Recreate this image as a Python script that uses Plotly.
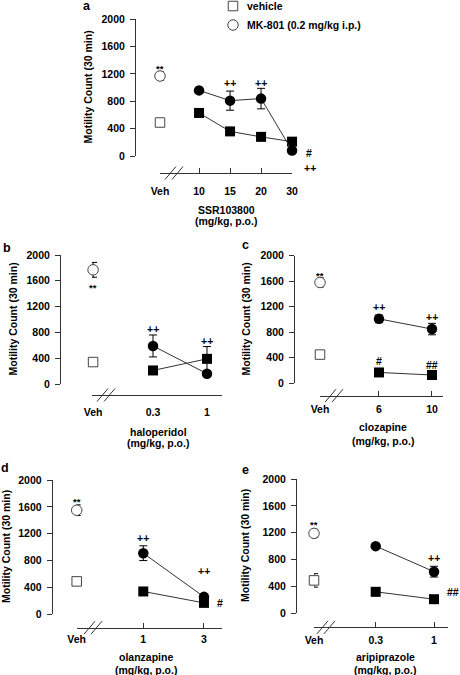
import plotly.graph_objects as go

# ---------------- data ----------------
veh_label = "Veh"
y_ticks = [0, 400, 800, 1200, 1600, 2000]
y_title = "Motility Count (30 min)"
dose_unit = "(mg/kg, p.o.)"
legend_vehicle = "vehicle"
legend_mk801 = "MK-801 (0.2 mg/kg i.p.)"

# panel a: SSR103800
a_drug = "SSR103800"
a_doses = ["10", "15", "20", "30"]
a_vehicle = [630, 360, 280, 210]
a_vehicle_err = [40, 50, 30, 30]
a_mk801 = [960, 810, 840, 80]
a_mk801_err = [40, 140, 150, 30]
a_ctrl_vehicle, a_ctrl_vehicle_err = 490, 20
a_ctrl_mk801, a_ctrl_mk801_err = 1170, 60

# panel b: haloperidol
b_drug = "haloperidol"
b_doses = ["0.3", "1"]
b_vehicle = [210, 390]
b_vehicle_err = [20, 190]
b_mk801 = [590, 160]
b_mk801_err = [170, 40]
b_ctrl_vehicle, b_ctrl_vehicle_err = 340, 30
b_ctrl_mk801, b_ctrl_mk801_err = 1770, 115

# panel c: clozapine
c_drug = "clozapine"
c_doses = ["6", "10"]
c_vehicle = [170, 130]
c_vehicle_err = [20, 20]
c_mk801 = [1010, 850]
c_mk801_err = [60, 90]
c_ctrl_vehicle, c_ctrl_vehicle_err = 450, 30
c_ctrl_mk801, c_ctrl_mk801_err = 1580, 70

# panel d: olanzapine
d_drug = "olanzapine"
d_doses = ["1", "3"]
d_vehicle = [340, 170]
d_vehicle_err = [50, 30]
d_mk801 = [910, 260]
d_mk801_err = [110, 40]
d_ctrl_vehicle, d_ctrl_vehicle_err = 490, 30
d_ctrl_mk801, d_ctrl_mk801_err = 1550, 80

# panel e: aripiprazole
e_drug = "aripiprazole"
e_doses = ["0.3", "1"]
e_vehicle = [320, 210]
e_vehicle_err = [60, 30]
e_mk801 = [1000, 620]
e_mk801_err = [30, 80]
e_ctrl_vehicle, e_ctrl_vehicle_err = 490, 100
e_ctrl_mk801, e_ctrl_mk801_err = 1190, 60

# significance labels: (label, series, dose index or None for Veh)
a_sig = [("**", "mk", None), ("++", "mk", 1), ("++", "mk", 2), ("#", "mk", 3), ("++", "mk", 3)]
b_sig = [("**", "mk", None), ("++", "mk", 0), ("++", "veh", 1)]
c_sig = [("**", "mk", None), ("++", "mk", 0), ("++", "mk", 1), ("#", "veh", 0), ("##", "veh", 1)]
d_sig = [("**", "mk", None), ("++", "mk", 0), ("++", "mk", 1), ("#", "veh", 1)]
e_sig = [("**", "mk", None), ("++", "mk", 1), ("##", "veh", 1)]

panels = [
    dict(key="a", drug=a_drug, doses=a_doses, veh=a_vehicle, veh_err=a_vehicle_err, mk=a_mk801, mk_err=a_mk801_err,
         cveh=a_ctrl_vehicle, cveh_err=a_ctrl_vehicle_err, cmk=a_ctrl_mk801, cmk_err=a_ctrl_mk801_err, sig=a_sig),
    dict(key="b", drug=b_drug, doses=b_doses, veh=b_vehicle, veh_err=b_vehicle_err, mk=b_mk801, mk_err=b_mk801_err,
         cveh=b_ctrl_vehicle, cveh_err=b_ctrl_vehicle_err, cmk=b_ctrl_mk801, cmk_err=b_ctrl_mk801_err, sig=b_sig),
    dict(key="c", drug=c_drug, doses=c_doses, veh=c_vehicle, veh_err=c_vehicle_err, mk=c_mk801, mk_err=c_mk801_err,
         cveh=c_ctrl_vehicle, cveh_err=c_ctrl_vehicle_err, cmk=c_ctrl_mk801, cmk_err=c_ctrl_mk801_err, sig=c_sig),
    dict(key="d", drug=d_drug, doses=d_doses, veh=d_vehicle, veh_err=d_vehicle_err, mk=d_mk801, mk_err=d_mk801_err,
         cveh=d_ctrl_vehicle, cveh_err=d_ctrl_vehicle_err, cmk=d_ctrl_mk801, cmk_err=d_ctrl_mk801_err, sig=d_sig),
    dict(key="e", drug=e_drug, doses=e_doses, veh=e_vehicle, veh_err=e_vehicle_err, mk=e_mk801, mk_err=e_mk801_err,
         cveh=e_ctrl_vehicle, cveh_err=e_ctrl_vehicle_err, cmk=e_ctrl_mk801, cmk_err=e_ctrl_mk801_err, sig=e_sig),
]

# ---------------- layout (pixel geometry) ----------------
W, H = 460, 675
def fx(px): return px / W
def fy(py): return 1 - py / H

FONT = "Liberation Sans, Arial, Helvetica, sans-serif"
AXC = "#333333"
FS = 10.5

geom = {
    "a": dict(yax_x=135, ytop=19.3, ybot=156, xax_y=173, xdom=(160, 292.2), xrange=(-1.26, 3.005), vehpos=-1.26,
              ticks=True, xstand=8, brk=174, lab=(87, 6), ytitle=(87, 87.5), xt=(226, 210, 221),
              sigoff=[(0, 8), (0, 18), (0, 15.6), (17, -2.6), (18, -17)]),
    "b": dict(yax_x=60, ytop=255, ybot=384, xax_y=395, xdom=(92, 222), xrange=(-1.13, 1.278), vehpos=-1.11,
              ticks=False, xstand=7, brk=106, lab=(7, 248), ytitle=(12, 319.5), xt=(158, 431.7, 442.7),
              sigoff=[(0, -18), (0, 17), (0, 18.3)]),
    "c": dict(yax_x=294, ytop=255.7, ybot=383.3, xax_y=395.7, xdom=(320, 443), xrange=(-1.113, 1.208), vehpos=-1.113,
              ticks=True, xstand=4, brk=334, lab=(245, 245), ytitle=(245, 319.5), xt=(383, 426.7, 440.7),
              sigoff=[(0, 7), (0, 12.3), (0, 12.3), (0, 11.6), (0, 10)]),
    "d": dict(yax_x=51.7, ytop=480, ybot=614.3, xax_y=627.7, xdom=(76.7, 222), xrange=(-1.097, 1.297), vehpos=-1.097,
              ticks=True, xstand=2, brk=93, lab=(5, 468), ytitle=(6, 547), xt=(146, 657.2, 669.8),
              sigoff=[(0, 8.5), (0, 15.6), (0, 25.7), (16, 0)]),
    "e": dict(yax_x=296, ytop=479, ybot=613.3, xax_y=627.3, xdom=(314, 448), xrange=(-1.058, 1.24), vehpos=-1.058,
              ticks=True, xstand=3, brk=326, lab=(245, 470), ytitle=(245, 546), xt=(385, 656.7, 669.5),
              sigoff=[(0, 8.5), (0, 13.3), (19, 7.3)]),
}

fig = go.Figure()
layout = dict(
    width=W, height=H, margin=dict(l=0, r=0, t=0, b=0, autoexpand=False),
    paper_bgcolor="white", plot_bgcolor="rgba(0,0,0,0)",
    font=dict(family=FONT, size=FS, color="black"),
    showlegend=False,
)
annotations = []
shapes = []

err_style = dict(type="data", color="black", thickness=1, width=4, visible=True)
open_line = dict(color="#444444", width=1)

def tfont(size=FS):
    return dict(family=FONT, size=size, weight="bold", color="black")

for i, p in enumerate(panels):
    g = geom[p["key"]]
    s = "" if i == 0 else str(i + 1)
    xa, ya = "x" + s, "y" + s
    n = len(p["doses"])
    xs = list(range(n))

    common = dict(xaxis=xa, yaxis=ya, cliponaxis=False, hoverinfo="skip")
    # dose series
    fig.add_trace(go.Scatter(x=xs, y=p["veh"], mode="lines+markers",
                             line=dict(color=AXC, width=1),
                             marker=dict(symbol="square", size=10, color="black"),
                             error_y=dict(array=p["veh_err"], **err_style), **common))
    fig.add_trace(go.Scatter(x=xs, y=p["mk"], mode="lines+markers",
                             line=dict(color=AXC, width=1),
                             marker=dict(symbol="circle", size=10.5, color="black"),
                             error_y=dict(array=p["mk_err"], **err_style), **common))
    # Veh controls
    fig.add_trace(go.Scatter(x=[g["vehpos"]], y=[p["cveh"]], mode="markers",
                             marker=dict(symbol="square", size=9.5, color="white", line=open_line),
                             error_y=dict(array=[p["cveh_err"]], **err_style), **common))
    fig.add_trace(go.Scatter(x=[g["vehpos"]], y=[p["cmk"]], mode="markers",
                             marker=dict(symbol="circle", size=10.5, color="white", line=open_line),
                             error_y=dict(array=[p["cmk_err"]], **err_style), **common))

    layout["xaxis" + s] = dict(
        domain=[fx(g["xdom"][0]), fx(g["xdom"][1])], range=list(g["xrange"]),
        anchor="free", position=fy(g["xax_y"]),
        showline=True, linecolor=AXC, linewidth=1,
        ticks="inside" if g["ticks"] else "", ticklen=5, tickwidth=1, tickcolor=AXC,
        tickvals=[g["vehpos"]] + xs, ticktext=[veh_label] + p["doses"],
        tickfont=tfont(), ticklabelstandoff=g["xstand"],
        showgrid=False, zeroline=False, fixedrange=True, automargin=False,
    )
    layout["yaxis" + s] = dict(
        domain=[fy(g["ybot"]), fy(g["ytop"])], range=[0, 2000],
        anchor="free", position=fx(g["yax_x"]),
        showline=True, linecolor=AXC, linewidth=1,
        ticks="outside", ticklen=5, tickwidth=1, tickcolor=AXC,
        tickvals=y_ticks, ticktext=[str(v) for v in y_ticks],
        tickfont=tfont(), ticklabelstandoff=3,
        showgrid=False, zeroline=False, fixedrange=True, automargin=False,
    )

    # significance marks
    for (lab, ser, idx), (dx, dy) in zip(p["sig"], g["sigoff"]):
        if idx is None:
            xv = g["vehpos"]
            yv = p["cmk"] if ser == "mk" else p["cveh"]
        else:
            xv = idx
            yv = p["mk"][idx] if ser == "mk" else p["veh"][idx]
        annotations.append(dict(x=xv, y=yv, xref=xa, yref=ya, text=lab, showarrow=False,
                                xshift=dx, yshift=dy, xanchor="center", yanchor="middle",
                                font=tfont(FS if lab != "**" else 9.5)))

    # panel letter
    annotations.append(dict(x=fx(g["lab"][0]), y=fy(g["lab"][1]), xref="paper", yref="paper",
                            text=p["key"], showarrow=False, xanchor="center", yanchor="middle",
                            font=tfont(12.5)))
    # y title
    annotations.append(dict(x=fx(g["ytitle"][0]), y=fy(g["ytitle"][1]), xref="paper", yref="paper",
                            text=y_title, textangle=-90, showarrow=False, xanchor="center", yanchor="middle",
                            font=tfont()))
    # x title (two lines)
    for txt, yy in ((p["drug"], g["xt"][1]), (dose_unit, g["xt"][2])):
        annotations.append(dict(x=fx(g["xt"][0]), y=fy(yy), xref="paper", yref="paper",
                                text=txt, showarrow=False, xanchor="center", yanchor="middle",
                                font=tfont()))
    # axis break "//"
    cx, cy = g["brk"], g["xax_y"]
    for off in (-3.5, 3.5):
        c = cx + off
        shapes.append(dict(type="line", xref="paper", yref="paper",
                           x0=fx(c - 5.5), y0=fy(cy + 6.5), x1=fx(c + 5.5), y1=fy(cy - 6.5),
                           line=dict(color=AXC, width=1)))

# legend (manual)
lx = 233
shapes.append(dict(type="rect", xref="paper", yref="paper",
                   x0=fx(lx - 4.75), x1=fx(lx + 4.75), y0=fy(6 + 4.75), y1=fy(6 - 4.75),
                   line=dict(color="#444444", width=1), fillcolor="white"))
shapes.append(dict(type="circle", xref="paper", yref="paper",
                   x0=fx(lx - 5.25), x1=fx(lx + 5.25), y0=fy(25 + 5.25), y1=fy(25 - 5.25),
                   line=dict(color="#444444", width=1), fillcolor="white"))
for txt, yy in ((legend_vehicle, 6), (legend_mk801, 25)):
    annotations.append(dict(x=fx(245), y=fy(yy), xref="paper", yref="paper", text=txt,
                            showarrow=False, xanchor="left", yanchor="middle",
                            font=tfont()))

layout["annotations"] = annotations
layout["shapes"] = shapes
fig.update_layout(**layout)
fig.write_html("out.html", config={"displayModeBar": False},
               post_script="document.body.style.margin='0';document.body.style.padding='0';")
